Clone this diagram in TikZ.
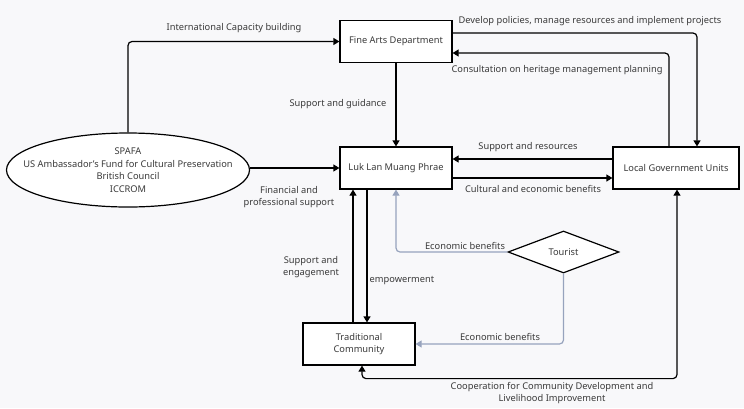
\documentclass[tikz,border=0pt]{standalone}
\usepackage{fontspec}
\setmainfont{Noto Sans}
\usetikzlibrary{positioning, shapes.geometric, arrows.meta, calc}
\definecolor{bgGray}{HTML}{F8F8FA}
\definecolor{txtGray}{HTML}{3A3A3A}
\definecolor{flowBlue}{HTML}{97A3BD}

\begin{document}
\begin{tikzpicture}[x=1pt, y=-1pt, font=\fontsize{9.3}{12.5}\selectfont,
	block/.style={draw, rectangle, line width=1.2pt, fill=white, text=txtGray, align=center,
	minimum width=112pt, minimum height=42pt, inner sep=2pt},
	link/.style={-{Triangle[length=6pt,width=7pt]}, line width=1.2pt, rounded corners=4pt},
	touristLink/.style={link, draw=flowBlue},
	lbl/.style={text=txtGray, align=center, inner sep=0pt}]
	
	\useasboundingbox[fill=bgGray] (0,0) rectangle (744,408);
	
	%Fine Arts Department
	\node (fineArts) at (396,41.5) [block]{Fine Arts Department};
	
	%Luk Lan Muang Phrae
	\node (lukLan) at (396,168) [block]{Luk Lan Muang Phrae};
	
	%Local Government Units
	\node (localGov) at (676,168) [block, minimum width=126pt]{Local Government Units};
	
	%Traditional Community
	\node (tradCommunity) at (359,344) [block]{Traditional\\ Community};
	
	%International partners
	\node (sponsors) at (128,170) [draw, ellipse, line width=1.2pt, fill=white, text=txtGray,
	align=center, minimum width=243pt, minimum height=74pt, inner xsep=-30pt, inner ysep=0pt]{SPAFA\\ 
	US Ambassador’s Fund for Cultural Preservation\\ British Council\\ ICCROM};
	
	%Tourist
	\node (tourist) at (563.5,252) [draw, diamond, aspect=2.64, line width=1.2pt, fill=white,
	text=txtGray, minimum width=111pt, minimum height=42pt, inner sep=0pt]{Tourist};
	
	%Links
	\draw[link] (sponsors.north) |- (fineArts.west);
	\draw[link] (sponsors.east |- lukLan.west) -- (lukLan.west);
	\draw[link] (fineArts.south) -- (lukLan.north);
	\draw[link] ([yshift=8.5pt]fineArts.east) -| ([xshift=21pt]localGov.north);
	\draw[link] ([xshift=-7pt]localGov.north) |- ([yshift=-11.5pt]fineArts.east);
	\draw[link] ([yshift=9pt]localGov.west) -- ([yshift=9pt]lukLan.east);
	\draw[link] ([yshift=-10pt]lukLan.east) -- ([yshift=-10pt]localGov.west);
	\draw[link] ($(tradCommunity.north)+(-6,0)$) -- ($(tradCommunity.north |- lukLan.south)+(-6,0)$);
	\draw[link] ($(tradCommunity.north |- lukLan.south)+(8,0)$) -- ($(tradCommunity.north)+(8,0)$);
	\draw[link, {Triangle[length=6pt,width=7pt]}-{Triangle[length=6pt,width=7pt]}] 
	([xshift=3pt]tradCommunity.south) -- ++(0,13) -| ([xshift=1pt]localGov.south);
	
	%Tourist links
	\draw[touristLink] (tourist.west) -| (lukLan.south);
	\draw[touristLink] (tourist.south) |- (tradCommunity.east);
	
	%Labels
	\node (lblCapacity) at (234,28) [lbl]{International Capacity building};
	\node (lblGuidance) at (338,104) [lbl]{Support and guidance};
	\node (lblFinancial) at (289,197) [lbl]{Financial and\\ professional support};
	\node (lblPolicies) at (590,21) [lbl]{Develop policies, manage resources and implement projects};
	\node (lblConsult) at (557,70) [lbl]{Consultation on heritage management planning};
	\node (lblResources) at (528,147) [lbl]{Support and resources};
	\node (lblBenefits) at (533,189) [lbl]{Cultural and economic benefits};
	\node (lblEconUpper) at (465,246) [lbl]{Economic benefits};
	\node (lblEngage) at (311,267) [lbl]{Support and\\ engagement};
	\node (lblEmpower) at (402,281) [lbl]{empowerment};
	\node (lblEconLower) at (500,337) [lbl]{Economic benefits};
	\node (lblCoop) at (552,393) [lbl]{Cooperation for Community Development and\\ Livelihood Improvement};
	
\end{tikzpicture}
\end{document}
